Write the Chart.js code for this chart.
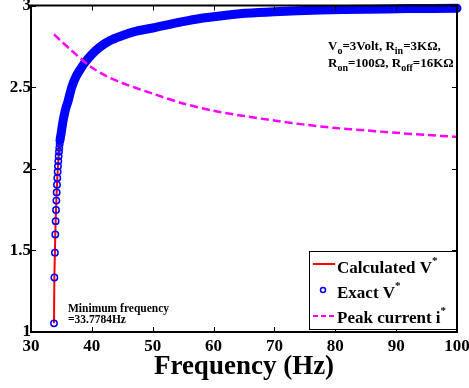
<!DOCTYPE html>
<html>
<head>
<meta charset="utf-8">
<script src="https://cdn.jsdelivr.net/npm/chart.js@4.4.1/dist/chart.umd.min.js"></script>
<style>
  html, body { margin: 0; padding: 0; background: #fff; }
  #wrap { width: 469px; height: 388px; }
</style>
</head>
<body>
<div id="wrap"><canvas id="chart" width="469" height="388"></canvas></div>
<script>
const SERIF = "'Liberation Serif', 'Times New Roman', serif";
const BLUE = '#0000ff';
const RED = '#ff0000';
const MAGENTA = '#ff00ff';

// exact / calculated V* (frequency in Hz, volts)
const exactFreq = [33.78, 33.84, 33.93, 33.99, 34.05, 34.11, 34.17, 34.22, 34.27, 34.32, 34.38, 34.43,
  34.49, 34.54, 34.60, 34.65, 34.71, 34.76,
  34.93, 35.09, 35.37, 35.75, 36.10, 36.7, 37.4, 38.2, 38.9, 40.0, 41.3, 43.0, 44.6, 47.0,
  50.0, 54.5, 58.0, 62.0, 65.2, 70.0, 77.5, 85.0, 92.0, 100.0];
const exactVolt = [1.053, 1.334, 1.486, 1.598, 1.679, 1.748, 1.805, 1.855, 1.902, 1.943, 1.982, 2.016,
  2.047, 2.077, 2.104, 2.128, 2.151, 2.173,
  2.212, 2.252, 2.313, 2.374, 2.415, 2.50, 2.565, 2.615, 2.652, 2.70, 2.745, 2.785, 2.81, 2.84,
  2.862, 2.898, 2.922, 2.94, 2.952, 2.962, 2.972, 2.977, 2.981, 2.983];

// peak current i*
const peakFreq = [33.78, 35, 36.5, 38, 40, 42.5, 45, 50, 55, 60, 65, 70, 75, 80, 85, 90, 95, 100];
const peakVal = [2.823, 2.78, 2.73, 2.68, 2.62, 2.565, 2.525, 2.46, 2.40, 2.355, 2.323, 2.295, 2.27,
  2.25, 2.235, 2.22, 2.207, 2.195];

const xTicks = [30, 40, 50, 60, 70, 80, 90, 100];
const yTicks = [1, 1.5, 2, 2.5, 3];

const pts = (xs, ys) => xs.map((x, i) => ({ x: x, y: ys[i] }));

function runs(ctx, x, y, parts, size, small) {
  parts.forEach(p => {
    const shift = p[1] === 1 ? 4 : (p[1] === -1 ? -9 : 0);
    ctx.font = 'bold ' + (p[1] ? small : size) + 'px ' + SERIF;
    ctx.fillText(p[0], x, y + shift);
    x += ctx.measureText(p[0]).width;
  });
}

const frame = {
  id: 'frame',
  afterDatasetsDraw(chart) {
    const { ctx, chartArea: a, scales: { x, y } } = chart;
    ctx.save();
    ctx.strokeStyle = '#000';
    ctx.lineWidth = 1;
    ctx.beginPath();
    x.ticks.forEach(t => {
      const px = Math.round(x.getPixelForValue(t.value)) + 0.5;
      ctx.moveTo(px, a.bottom); ctx.lineTo(px, a.bottom - 5);
      ctx.moveTo(px, a.top); ctx.lineTo(px, a.top + 5);
    });
    y.ticks.forEach(t => {
      const py = Math.round(y.getPixelForValue(t.value)) + 0.5;
      ctx.moveTo(a.left, py); ctx.lineTo(a.left + 5, py);
      ctx.moveTo(a.right, py); ctx.lineTo(a.right - 5, py);
    });
    ctx.stroke();
    ctx.lineWidth = 2;
    ctx.strokeRect(a.left, a.top, a.right - a.left, a.bottom - a.top);
    ctx.restore();
  }
};

const notes = {
  id: 'notes',
  afterDraw(chart) {
    const ctx = chart.ctx;
    ctx.save();
    ctx.fillStyle = '#000';
    ctx.textBaseline = 'alphabetic';

    // parameters
    runs(ctx, 328, 50, [['V', 0], ['o', 1], ['=3Volt, R', 0], ['in', 1], ['=3K\u03A9,', 0]], 13, 10);
    runs(ctx, 328, 67, [['R', 0], ['on', 1], ['=100\u03A9, R', 0], ['off', 1], ['=16K\u03A9', 0]], 13, 10);

    // minimum frequency note
    ctx.font = 'bold 11.5px ' + SERIF;
    ctx.fillText('Minimum frequency', 68, 312);
    ctx.fillText('=33.7784Hz', 68, 323);

    // legend box
    const bx = 309, by = 251, bw = 147, bh = 78;
    ctx.fillStyle = '#fff';
    ctx.fillRect(bx, by, bw, bh);
    ctx.strokeStyle = '#000';
    ctx.lineWidth = 1;
    ctx.strokeRect(bx + 0.5, by + 0.5, bw, bh);

    ctx.lineWidth = 2;
    ctx.strokeStyle = RED;
    ctx.beginPath(); ctx.moveTo(313, 264); ctx.lineTo(335, 264); ctx.stroke();

    ctx.strokeStyle = BLUE;
    ctx.lineWidth = 1.5;
    ctx.beginPath(); ctx.arc(323, 290, 2.5, 0, Math.PI * 2); ctx.stroke();

    ctx.strokeStyle = MAGENTA;
    ctx.lineWidth = 2;
    ctx.setLineDash([5, 3]);
    ctx.beginPath(); ctx.moveTo(313, 316); ctx.lineTo(336, 316); ctx.stroke();
    ctx.setLineDash([]);

    ctx.fillStyle = '#000';
    runs(ctx, 337, 273, [['Calculated V', 0], ['*', -1]], 17, 11);
    runs(ctx, 337, 298, [['Exact V', 0], ['*', -1]], 17, 11);
    runs(ctx, 337, 323, [['Peak current i', 0], ['*', -1]], 17, 11);
    ctx.restore();
  }
};

const tickFont = { family: SERIF, size: 17, weight: 'bold' };

new Chart(document.getElementById('chart'), {
  type: 'line',
  data: {
    datasets: [
      {
        label: 'Peak current i*',
        data: pts(peakFreq, peakVal),
        borderColor: MAGENTA,
        borderWidth: 2.5,
        borderDash: [8, 4],
        pointRadius: 0,
        tension: 0.3,
        order: 0
      },
      {
        label: 'Exact V*',
        data: pts(exactFreq, exactVolt),
        borderColor: BLUE,
        borderWidth: 9,
        borderCapStyle: 'round',
        borderJoinStyle: 'round',
        segment: {
          borderColor: c => c.p0.parsed.y > 2.17 ? BLUE : 'rgba(0,0,0,0)'
        },
        pointRadius: c => (c.raw && c.raw.y > 2.2) ? 0 : 3.2,
        pointBorderWidth: 1.5,
        pointBorderColor: BLUE,
        pointBackgroundColor: 'rgba(0,0,0,0)',
        tension: 0.3,
        clip: 5,
        order: 1
      },
      {
        label: 'Calculated V*',
        data: pts(exactFreq, exactVolt),
        borderColor: RED,
        borderWidth: 2,
        pointRadius: 0,
        tension: 0.3,
        order: 2
      }
    ]
  },
  options: {
    responsive: false,
    animation: false,
    devicePixelRatio: 1,
    events: [],
    layout: { padding: { top: 4, right: 12, left: 0, bottom: 0 } },
    plugins: { legend: { display: false }, tooltip: { enabled: false } },
    scales: {
      x: {
        type: 'linear',
        min: 30, max: 100,
        afterBuildTicks: s => { s.ticks = xTicks.map(v => ({ value: v })); },
        afterFit: s => { s.height = 56; s.paddingLeft = 0; s.paddingRight = 0; },
        grid: { display: false, drawTicks: false },
        border: { display: false },
        ticks: { font: tickFont, color: '#000', padding: 4, maxRotation: 0, callback: v => String(v) },
        title: {
          display: true, text: 'Frequency (Hz)', color: '#000',
          font: { family: SERIF, size: 27, weight: 'bold' },
          padding: { top: 0, bottom: 5 }
        }
      },
      y: {
        type: 'linear',
        min: 1, max: 3,
        afterBuildTicks: s => { s.ticks = yTicks.map(v => ({ value: v })); },
        afterFit: s => { s.width = 31; s.paddingTop = 0; s.paddingBottom = 0; },
        grid: { display: false, drawTicks: false },
        border: { display: false },
        ticks: { font: tickFont, color: '#000', padding: 0, callback: v => String(v) }
      }
    }
  },
  plugins: [frame, notes]
});
</script>
</body>
</html>
